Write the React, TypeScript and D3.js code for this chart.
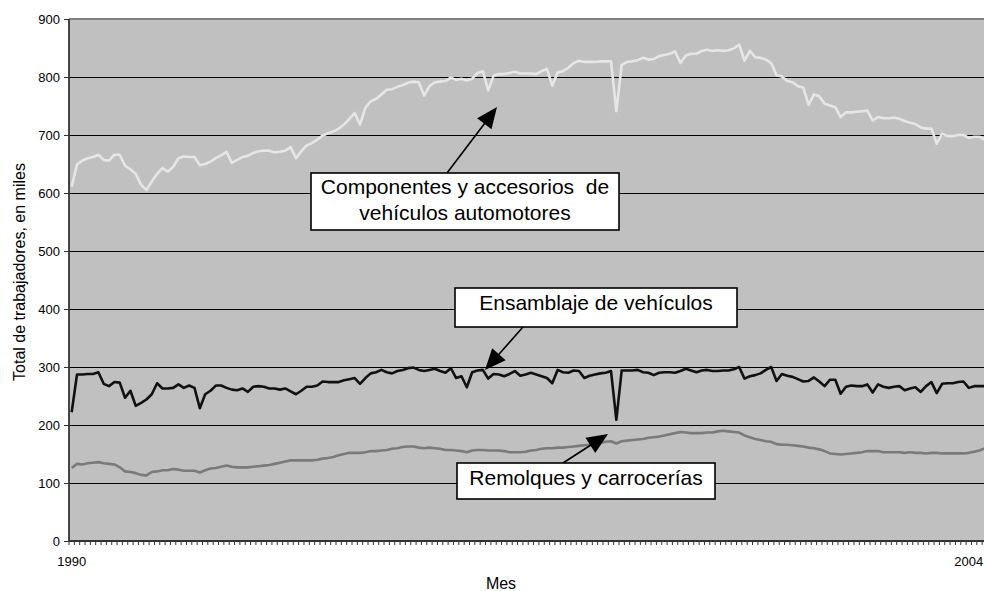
import React from 'react';
import * as d3 from 'd3';

// ---- Data (monthly, Jan 1990 onward, thousands of workers) ----
const startYear = 1990;
const componentes: number[] = [
  611, 649, 656, 660, 662, 666, 657, 656, 666, 666,
  647, 641, 633, 614, 605, 620, 633, 643, 637, 645,
  660, 663, 662, 662, 648, 650, 654, 660, 665, 671,
  652, 657, 662, 664, 669, 672, 673, 673, 670, 671,
  673, 679, 660, 672, 682, 686, 692, 699, 703, 706,
  711, 718, 728, 738, 718, 747, 758,
  762, 770, 778, 779, 783, 786, 790, 792, 791, 768,
  784, 791, 792, 793, 799, 795, 797, 794, 797, 807,
  810, 777, 802, 805, 805, 807, 809, 806, 806, 806,
  805, 810, 814, 785, 808, 810, 816, 824, 828, 826,
  826, 826, 827, 827, 827, 741, 821, 826, 827, 829,
  833, 830, 831, 836, 838, 840, 844,
  824, 837, 840, 840, 845, 847, 845, 846, 845, 846,
  849, 856, 828, 845, 834, 833, 830, 824, 803, 801,
  793, 791, 784, 782, 752, 770, 767, 754, 751, 748,
  731, 739, 739, 740, 741, 742, 725, 731, 729, 729,
  730, 728, 724, 721, 719, 713, 711, 711, 685, 702,
  698, 698, 700, 700, 695, 697, 697, 692,
];
const ensamblaje: number[] = [
  222, 287, 287, 288, 288, 291, 271, 267, 274, 273,
  247, 259, 233, 238, 244, 253, 272, 263, 263, 264,
  270, 264, 268, 264, 229, 253, 259, 268, 268, 264,
  261, 260, 263, 257, 266, 267, 266, 263, 263, 261,
  263, 258, 253, 259, 266, 266, 268, 275, 274, 274,
  274, 277, 279, 281, 271, 281, 289,
  291, 295, 291, 289, 293, 295, 298, 299, 295, 293,
  295, 297, 293, 290, 298, 281, 284, 265, 291, 294,
  295, 280, 288, 287, 284, 288, 293, 285, 287, 290,
  287, 284, 281, 272, 295, 291, 290, 294, 293, 281,
  285, 287, 289, 290, 293, 209, 294, 294, 294, 295,
  291, 290, 286, 290, 291, 291, 290,
  293, 297, 294, 291, 294, 295, 293, 293, 294, 294,
  296, 300, 280, 284, 286, 289, 295, 300, 276, 288,
  285, 283, 279, 275, 276, 282, 275, 267, 278, 278,
  254, 266, 268, 267, 267, 270, 256, 270, 266, 264,
  266, 267, 260, 263, 265, 257, 267, 274, 255, 271,
  272, 272, 274, 275, 264, 267, 267, 267,
];
const remolques: number[] = [
  126, 133, 132, 134, 135, 136, 134, 133, 132, 127,
  120, 119, 117, 114, 113, 119, 120, 122, 122, 124,
  123, 121, 121, 121, 118, 122, 125, 126, 128, 130,
  128, 127, 127, 127, 128, 129, 130, 131, 133, 135,
  137, 139, 139, 139, 139, 139, 140, 142, 143, 145,
  148, 150, 152, 152, 152, 153, 155,
  155, 156, 157, 159, 160, 162, 163, 163, 161, 160,
  161, 160, 159, 157, 157, 156, 155, 153, 156, 157,
  157, 156, 156, 156, 155, 153, 153, 153, 154, 156,
  157, 159, 160, 160, 161, 161, 162, 163, 164, 165,
  166, 167, 169, 171, 172, 168, 172, 173, 174, 175,
  176, 178, 179, 180, 182, 184, 186,
  188, 187, 186, 186, 186, 187, 187, 189, 190, 189,
  188, 187, 182, 179, 176, 174, 172, 171, 167, 166,
  166, 165, 164, 163, 161, 160, 158, 155, 151, 150,
  149, 150, 151, 152, 153, 155, 155, 155, 153, 153,
  153, 153, 152, 153, 152, 152, 151, 152, 152, 151,
  151, 151, 151, 151, 152, 154, 156, 160,
];
const months: string[] = componentes.map(
  (_, i) => `${startYear + Math.floor(i / 12)}-${String((i % 12) + 1).padStart(2, '0')}`
);
const xTickLabels = [
  { month: '1990-01', label: '1990' },
  { month: '2004-01', label: '2004' },
];
const yTicks = [0, 100, 200, 300, 400, 500, 600, 700, 800, 900];
const yTitle = 'Total de trabajadores, en miles';
const xTitle = 'Mes';

const FONT = "'Liberation Sans', Arial, Helvetica, sans-serif";

type Annot = {
  lines: string[];
  box: [number, number, number, number]; // x0, y0, x1, y1
  from: [number, number];
  to: [number, number];
  baseline: number;
};

const annotations: Annot[] = [
  {
    lines: ['Componentes y accesorios  de', 'vehículos automotores'],
    box: [311, 173, 619, 230],
    from: [447, 173],
    to: [497, 107],
    baseline: 194,
  },
  {
    lines: ['Ensamblaje de vehículos'],
    box: [455, 288, 737, 327],
    from: [523, 327],
    to: [485, 370],
    baseline: 310,
  },
  {
    lines: ['Remolques y carrocerías'],
    box: [457, 463, 715, 499],
    from: [563, 463],
    to: [608, 434],
    baseline: 485,
  },
];

function Arrow({ from, to }: { from: [number, number]; to: [number, number] }) {
  const dx = to[0] - from[0];
  const dy = to[1] - from[1];
  const len = Math.hypot(dx, dy);
  const ux = dx / len, uy = dy / len;
  const hl = 21, hw = 9;
  const bx = to[0] - ux * hl, by = to[1] - uy * hl;
  const px = -uy, py = ux;
  const pts = [
    [to[0], to[1]],
    [bx + px * hw, by + py * hw],
    [bx - px * hw, by - py * hw],
  ];
  return (
    <g>
      <line x1={from[0]} y1={from[1]} x2={bx + ux * 2} y2={by + uy * 2} stroke="#000" strokeWidth={1.6} />
      <polygon points={pts.map((p) => p.join(',')).join(' ')} fill="#000" />
    </g>
  );
}

export default function App() {
  const W = 984, H = 591;
  const left = 69, top = 19, bottom = 541;
  const bandW = 5.34;
  const right = left + months.length * bandW;

  const x = d3.scaleBand<string>().domain(months).range([left, right]).padding(0);
  const cx = (m: string) => (x(m) as number) + x.bandwidth() / 2;
  const y = d3.scaleLinear().domain([0, 900]).range([bottom, top]);

  const line = d3
    .line<number>()
    .x((_, i) => cx(months[i]))
    .y((d) => y(d));

  const series = [
    { data: componentes, color: '#e6e6e6' },
    { data: remolques, color: '#7a7a7a' },
    { data: ensamblaje, color: '#111111' },
  ];

  const crisp = (v: number) => Math.round(v) + 0.5;

  return (
    <svg
      width={W}
      height={H}
      style={{ position: 'absolute', left: 0, top: 0, background: '#fff' }}
      fontFamily={FONT}
    >
      <rect x={left} y={top} width={right - left} height={bottom - top} fill="#c0c0c0" />
      {yTicks.filter((t) => t > 0 && t < 900).map((t) => (
        <line key={t} x1={left} x2={right} y1={crisp(y(t))} y2={crisp(y(t))} stroke="#000" strokeWidth={1} />
      ))}
      <line x1={left} x2={right} y1={top} y2={top} stroke="#808080" strokeWidth={2} />

      {series.map((s, k) => (
        <path key={k} d={line(s.data) || ''} fill="none" stroke={s.color} strokeWidth={2.6} strokeLinejoin="round" />
      ))}

      {/* axes */}
      <line x1={left} x2={left} y1={top} y2={bottom} stroke="#333" strokeWidth={1.8} />
      <line x1={left} x2={right} y1={bottom} y2={bottom} stroke="#333" strokeWidth={1.8} />
      {yTicks.map((t) => (
        <g key={t}>
          <line x1={left - 5} x2={left} y1={crisp(y(t))} y2={crisp(y(t))} stroke="#333" strokeWidth={1} />
          <text x={60} y={y(t) + 4.6} textAnchor="end" fontSize={13} fill="#000">
            {t}
          </text>
        </g>
      ))}
      {months.map((m, i) => (
        <line key={m} x1={x(m) as number} x2={x(m) as number} y1={bottom} y2={bottom + 4} stroke="#333" strokeWidth={1} />
      ))}
      {xTickLabels.map((t) => (
        <text key={t.label} x={cx(t.month)} y={566} textAnchor="middle" fontSize={13} fill="#000">
          {t.label}
        </text>
      ))}
      <text x={501} y={589} textAnchor="middle" fontSize={16} fill="#000">
        {xTitle}
      </text>
      <text transform="translate(25,272) rotate(-90)" textAnchor="middle" fontSize={16} fill="#000">
        {yTitle}
      </text>

      {/* annotations */}
      {annotations.map((a, k) => {
        const [x0, y0, x1, y1] = a.box;
        const mid = (x0 + x1) / 2;
        return (
          <g key={k}>
            <Arrow from={a.from} to={a.to} />
            <rect x={x0} y={y0} width={x1 - x0} height={y1 - y0} fill="#fff" stroke="#000" strokeWidth={1.6} />
            {a.lines.map((l, j) => (
              <text key={j} x={mid} y={a.baseline + j * 26} textAnchor="middle" fontSize={21} fill="#000" style={{ whiteSpace: 'pre' }}>
                {l}
              </text>
            ))}
          </g>
        );
      })}
    </svg>
  );
}
